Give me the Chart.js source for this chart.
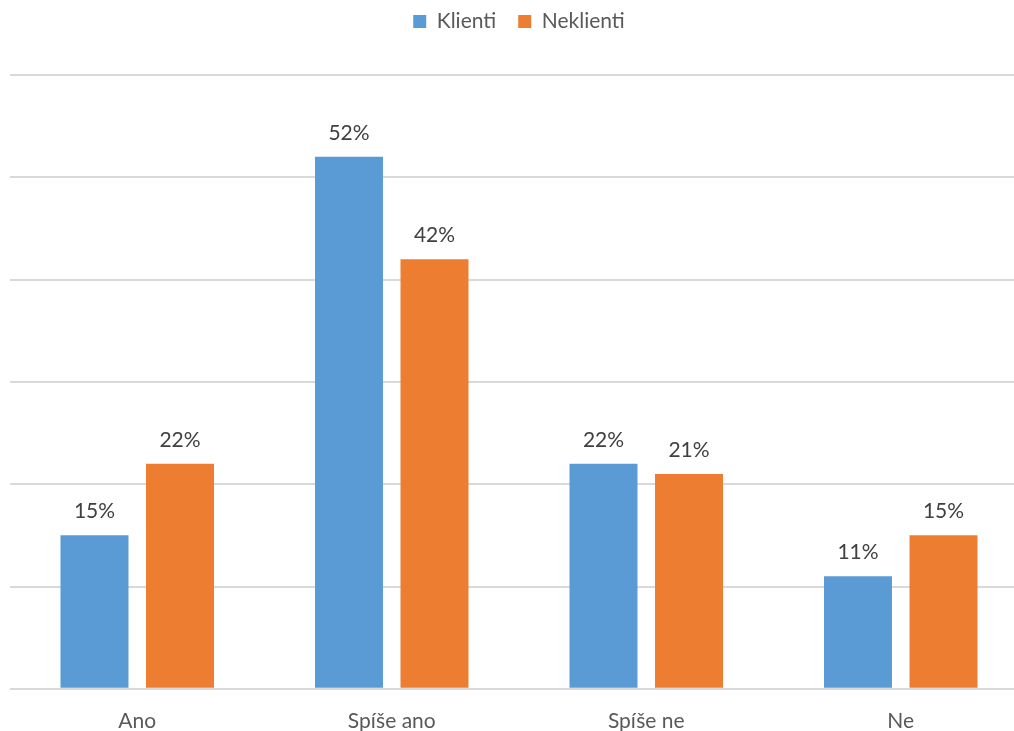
<!DOCTYPE html>
<html>
<head>
<meta charset="utf-8">
<script src="https://cdn.jsdelivr.net/npm/chart.js"></script>
<style>
  html, body { margin: 0; padding: 0; background: #fff; overflow: hidden; }
  #wrap { width: 1028px; height: 731px; }
</style>
</head>
<body>
<div id="wrap"><canvas id="chart"></canvas></div>
<script>
const categories = ["Ano", "Spíše ano", "Spíše ne", "Ne"];
const seriesNames = ["Klienti", "Neklienti"];
const klienti = [15, 52, 22, 11];
const neklienti = [22, 42, 21, 15];
const seriesColors = ["#5B9BD5", "#ED7D31"];

const textColor = "#595959";
const fontFamily = "Lato, 'Open Sans', sans-serif";

// draws "NN%" above each bar
const valueLabels = {
  id: "valueLabels",
  afterDatasetsDraw(chart) {
    const ctx = chart.ctx;
    ctx.save();
    ctx.font = "21px " + fontFamily;
    ctx.fillStyle = "#404040";
    ctx.textAlign = "center";
    ctx.textBaseline = "middle";
    chart.data.datasets.forEach(function(ds, i) {
      chart.getDatasetMeta(i).data.forEach(function(bar, j) {
        ctx.fillText(ds.data[j] + "%", bar.x, bar.y - 24);
      });
    });
    ctx.restore();
  }
};

// leave room under the legend, like the original
const legendGap = {
  id: "legendGap",
  beforeInit(chart) {
    const fit = chart.legend.fit;
    chart.legend.fit = function() {
      fit.call(this);
      this.height = 86;
    };
  }
};

new Chart(document.getElementById("chart"), {
  type: "bar",
  data: {
    labels: categories,
    datasets: [
      { label: seriesNames[0], data: klienti, backgroundColor: seriesColors[0] },
      { label: seriesNames[1], data: neklienti, backgroundColor: seriesColors[1] }
    ]
  },
  options: {
    responsive: true,
    maintainAspectRatio: false,
    animation: false,
    categoryPercentage: 0.672,
    barPercentage: 0.795,
    layout: { padding: { left: 10, right: 0, top: -11, bottom: -23 } },
    plugins: {
      tooltip: { enabled: false },
      legend: {
        position: "top",
        labels: {
          boxWidth: 13,
          boxHeight: 13,
          padding: 22,
          color: textColor,
          font: { family: fontFamily, size: 21 }
        }
      }
    },
    scales: {
      x: {
        grid: { display: false, drawTicks: false },
        border: { display: false },
        ticks: { color: textColor, font: { family: fontFamily, size: 21 }, padding: 20 }
      },
      y: {
        min: 0,
        max: 60,
        ticks: { display: false, stepSize: 10 },
        border: { display: false },
        grid: { color: "#d9d9d9", lineWidth: 2, drawTicks: false }
      }
    }
  },
  plugins: [valueLabels, legendGap]
});
</script>
</body>
</html>
